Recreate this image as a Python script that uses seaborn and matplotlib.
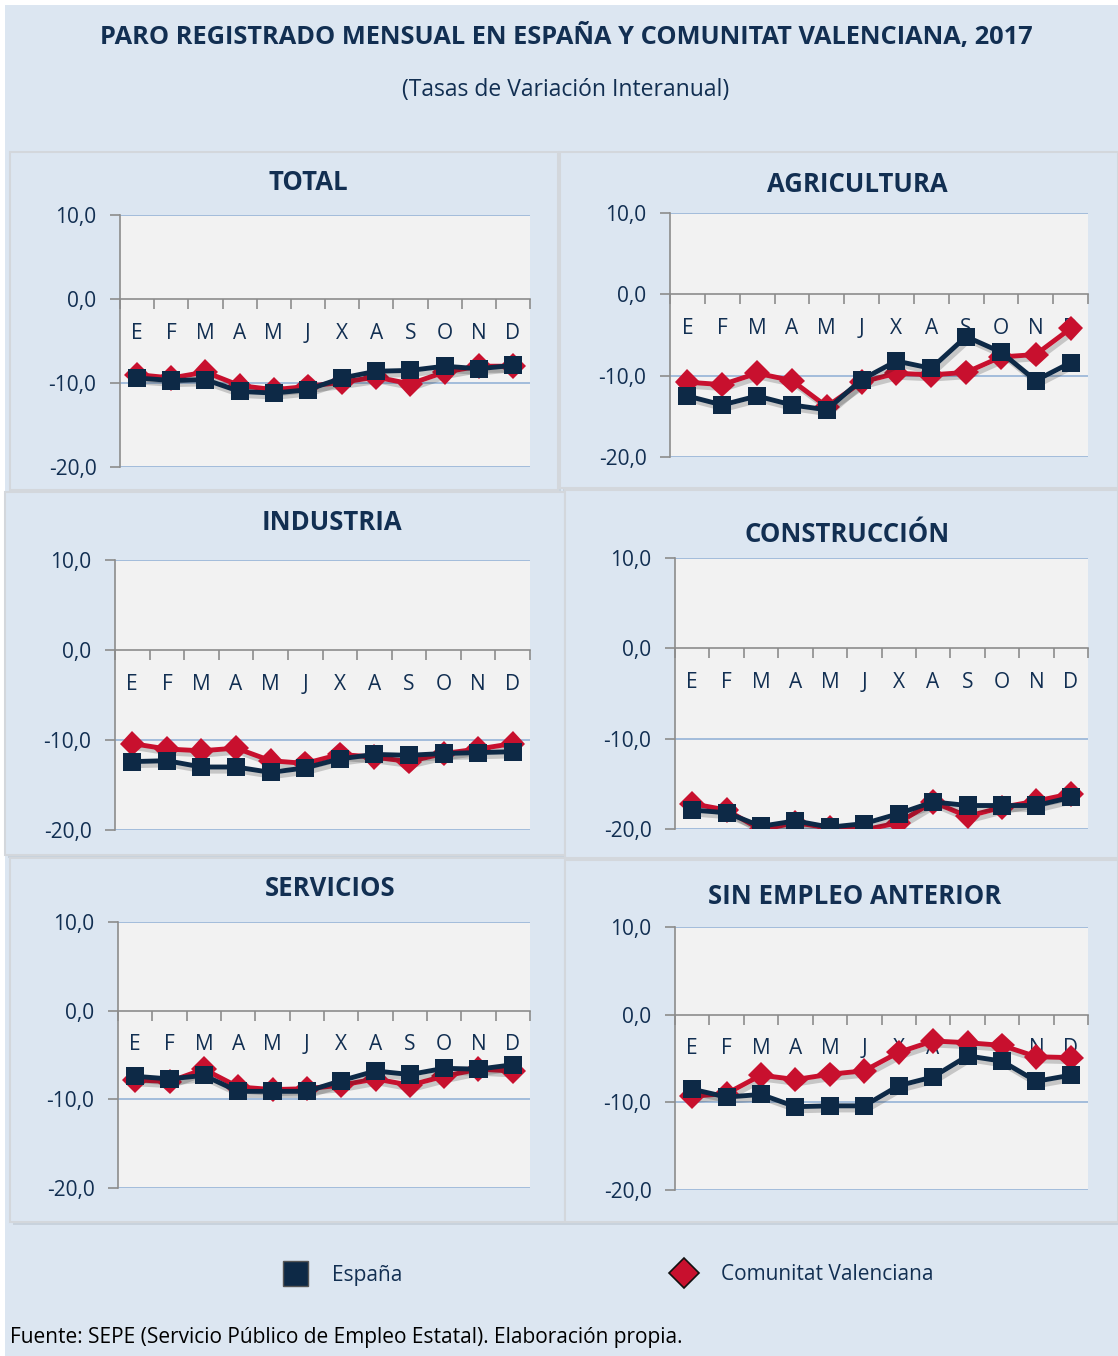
import numpy as np
import pandas as pd
import matplotlib.pyplot as plt
import matplotlib.patheffects as pe
from matplotlib.patches import Rectangle
from matplotlib.lines import Line2D
import seaborn as sns

# ─────────────────────────────────────────
# DATA — tasas de variación interanual (%)
# ─────────────────────────────────────────
meses = ["E", "F", "M", "A", "M", "J", "X", "A", "S", "O", "N", "D"]
series = ["España", "Comunitat Valenciana"]

total_esp = [-9.4, -9.7, -9.6, -11.0, -11.2, -10.8, -9.4, -8.6, -8.5, -8.0, -8.3, -7.9]
total_cv = [-9.0, -9.4, -8.7, -10.3, -10.8, -10.4, -9.9, -9.3, -10.1, -8.7, -8.0, -8.0]

agri_esp = [-12.5, -13.6, -12.5, -13.6, -14.2, -10.5, -8.2, -9.1, -5.2, -7.1, -10.6, -8.4]
agri_cv = [-10.8, -11.1, -9.7, -10.6, -13.8, -10.8, -9.7, -9.9, -9.6, -7.7, -7.4, -4.2]

ind_esp = [-12.4, -12.3, -13.0, -13.0, -13.6, -13.1, -12.1, -11.6, -11.7, -11.5, -11.4, -11.3]
ind_cv = [-10.4, -11.0, -11.2, -10.9, -12.3, -12.6, -11.6, -11.9, -12.4, -11.5, -11.0, -10.4]

cons_esp = [-17.9, -18.2, -19.7, -19.1, -19.8, -19.4, -18.3, -17.0, -17.4, -17.4, -17.4, -16.5]
cons_cv = [-17.2, -17.9, -20.1, -19.3, -19.9, -20.1, -19.3, -17.0, -18.6, -17.6, -16.9, -16.1]

serv_esp = [-7.4, -7.7, -7.3, -9.1, -9.1, -9.1, -7.9, -6.8, -7.2, -6.5, -6.6, -6.1]
serv_cv = [-7.8, -8.0, -6.6, -8.6, -8.9, -8.8, -8.4, -7.7, -8.4, -7.4, -6.6, -6.8]

sea_esp = [-8.5, -9.4, -9.1, -10.5, -10.4, -10.4, -8.1, -7.1, -4.7, -5.3, -7.6, -6.9]
sea_cv = [-9.3, -9.0, -6.9, -7.4, -6.8, -6.4, -4.3, -3.0, -3.2, -3.5, -4.8, -4.9]

yticks = [10, 0, -10, -20]
ytick_labels = ["10,0", "0,0", "-10,0", "-20,0"]

# panel title, España, CV, panel box (px), plot area (px), title x/y (px)
panels = [
    ("TOTAL", total_esp, total_cv, (10, 152, 558, 490), (120, 215, 530, 467), (308, 183)),
    ("AGRICULTURA", agri_esp, agri_cv, (560, 152, 1118, 488), (670, 213, 1088, 457), (857, 185)),
    ("INDUSTRIA", ind_esp, ind_cv, (5, 492, 565, 855), (115, 560, 530, 830), (332, 523)),
    ("CONSTRUCCIÓN", cons_esp, cons_cv, (565, 490, 1118, 858), (675, 558, 1088, 829), (847, 535)),
    ("SERVICIOS", serv_esp, serv_cv, (10, 858, 565, 1222), (118, 922, 530, 1188), (330, 888)),
    ("SIN EMPLEO ANTERIOR", sea_esp, sea_cv, (565, 860, 1118, 1222), (675, 927, 1088, 1190), (855, 897)),
]

# ─────────────────────────────────────────
# STYLE
# ─────────────────────────────────────────
W, H = 1118, 1356
BG = "#DCE6F1"
PLOT_BG = "#F2F2F2"
NAVY = "#122F52"
C_ESP = "#0D2946"
C_CV = "#C8102E"
GRID = "#95B3D7"
AXIS = "#8C8C8C"

sns.set_theme(style="white")
plt.rcParams["font.family"] = ["Open Sans", "DejaVu Sans"]

fig = plt.figure(figsize=(W / 100, H / 100), dpi=100, facecolor="white")


def fx(x):
    return x / W


def fy(y):
    return 1 - y / H


# page background
fig.patches.append(Rectangle((fx(5), 0), 1 - fx(5), fy(5), transform=fig.transFigure,
                             facecolor=BG, edgecolor="none", zorder=0))

fig.text(fx(566), fy(37), "PARO REGISTRADO MENSUAL EN ESPAÑA Y COMUNITAT VALENCIANA, 2017",
         ha="center", va="center", fontsize=18.3, fontweight="bold", color=NAVY)
fig.text(fx(566), fy(90), "(Tasas de Variación Interanual)", ha="center", va="center",
         fontsize=16.5, color=NAVY)

shadow = [pe.SimpleLineShadow(offset=(2, -3), shadow_color="k", alpha=0.2), pe.Normal()]

for title, esp, cv, box, area, tpos in panels:
    bx0, by0, bx1, by1 = box
    # panel frame with soft shadow
    fig.patches.append(Rectangle((fx(bx0 + 3), fy(by1 + 3)), fx(bx1 - bx0), (by1 - by0) / H,
                                 transform=fig.transFigure, facecolor="#BCC5D0",
                                 edgecolor="none", zorder=1, alpha=0.6))
    fig.patches.append(Rectangle((fx(bx0), fy(by1)), fx(bx1 - bx0), (by1 - by0) / H,
                                 transform=fig.transFigure, facecolor=BG,
                                 edgecolor="#D3D7DC", lw=1.5, zorder=1))
    fig.text(fx(tpos[0]), fy(tpos[1]), title, ha="center", va="center",
             fontsize=18.5, fontweight="bold", color=NAVY, zorder=3)

    ax0, ay0, ax1, ay1 = area
    ax = fig.add_axes([fx(ax0), fy(ay1), fx(ax1 - ax0), (ay1 - ay0) / H])
    ax.set_facecolor(PLOT_BG)
    ax.set_zorder(2)

    df = pd.DataFrame({
        "pos": list(range(len(meses))) * 2,
        "valor": cv + esp,
        "serie": ["Comunitat Valenciana"] * len(meses) + ["España"] * len(meses),
    })
    sns.lineplot(data=df, x="pos", y="valor", hue="serie", style="serie",
                 hue_order=["Comunitat Valenciana", "España"],
                 style_order=["Comunitat Valenciana", "España"],
                 palette={"España": C_ESP, "Comunitat Valenciana": C_CV},
                 markers={"España": "s", "Comunitat Valenciana": "D"},
                 dashes=False, sort=False, linewidth=3.5, markersize=13,
                 markeredgewidth=0, legend=False, ax=ax, path_effects=shadow)

    ax.set_xlim(-0.5, 11.5)
    ax.set_ylim(-20, 10)
    ax.set_xlabel("")
    ax.set_ylabel("")

    for s in ["top", "right"]:
        ax.spines[s].set_visible(False)
    ax.spines["left"].set_color(AXIS)
    ax.spines["left"].set_linewidth(1.2)
    ax.spines["bottom"].set_position(("data", 0))
    ax.spines["bottom"].set_color(AXIS)
    ax.spines["bottom"].set_linewidth(1.2)

    for v in [10, -10, -20]:
        ax.axhline(v, color=GRID, lw=1.2, zorder=0)

    ax.set_yticks(yticks, labels=ytick_labels)
    ax.tick_params(axis="y", direction="out", length=7, width=1.2, color=AXIS,
                   pad=10, labelsize=15, labelcolor=NAVY, left=True)

    ax.set_xticks(np.arange(len(meses)), labels=meses)
    ax.set_xticks(np.arange(len(meses) + 1) - 0.5, minor=True)
    ax.tick_params(axis="x", which="major", length=0, pad=17, labelsize=15,
                   labelcolor=NAVY, bottom=True)
    ax.tick_params(axis="x", which="minor", direction="out", length=7, width=1.2,
                   color=AXIS, bottom=True)
    ax.set_axisbelow(True)

# legend
h_esp = Line2D([], [], marker="s", linestyle="none", color=C_ESP, markersize=18,
               markeredgecolor="#555555", markeredgewidth=1)
h_cv = Line2D([], [], marker="D", linestyle="none", color=C_CV, markersize=15,
              markeredgecolor="#111111", markeredgewidth=1.2)
fig.legend(handles=[h_esp], labels=["España"], loc="center left",
           bbox_to_anchor=(fx(255), fy(1275)), frameon=False, fontsize=15,
           handletextpad=0.8, labelcolor=NAVY)
fig.legend(handles=[h_cv], labels=["Comunitat Valenciana"], loc="center left",
           bbox_to_anchor=(fx(644), fy(1275)), frameon=False, fontsize=15,
           handletextpad=0.8, labelcolor=NAVY)

fig.text(fx(10), fy(1338), "Fuente: SEPE (Servicio Público de Empleo Estatal). Elaboración propia.",
         ha="left", va="center", fontsize=15, color="black")

fig.savefig("out.png", dpi=100, facecolor=fig.get_facecolor())
